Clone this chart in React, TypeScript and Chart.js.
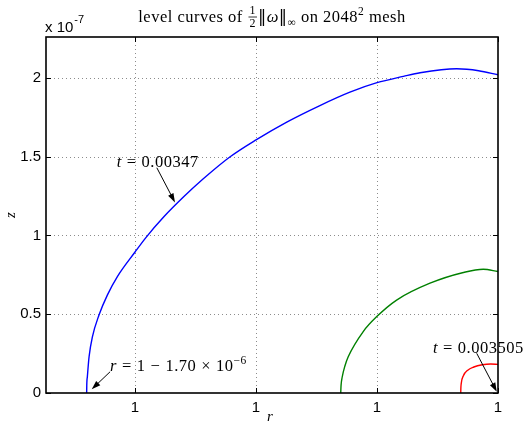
import React, { useEffect, useRef } from "react";
import { Chart, registerables } from "chart.js";

Chart.register(...registerables);

// r is shown as (r - 1) * 1e6, z as z * 1e7
const blueR = [-1.700, -1.6995, -1.697, -1.690, -1.676, -1.649, -1.614, -1.573, -1.500, -1.456, -1.380, -1.298, -1.218, -1.107, -1.000, -0.873, -0.736, -0.612, -0.500, -0.391, -0.322, -0.171, -0.080, 0];
const blueZ = [0, 0.05, 0.104, 0.23, 0.358, 0.495, 0.623, 0.739, 0.895, 0.985, 1.12, 1.247, 1.36, 1.5, 1.607, 1.72, 1.825, 1.910, 1.970, 2.010, 2.033, 2.058, 2.046, 2.02];

const greenR = [-0.650, -0.6485, -0.644, -0.633, -0.619, -0.557, -0.501, -0.419, -0.281, -0.143, -0.061, 0];
const greenZ = [0, 0.05, 0.10, 0.17, 0.23, 0.39, 0.485, 0.59, 0.697, 0.765, 0.786, 0.771];

const redR = [-0.154, -0.1535, -0.152, -0.143, -0.125, -0.100, -0.065, -0.030, 0];
const redZ = [0, 0.03, 0.06, 0.11, 0.145, 0.165, 0.179, 0.184, 0.182];

const xTickValues = [-1.5, -1, -0.5, 0];
const xTickLabels = ["1", "1", "1", "1"];
const yTickValues = [0, 0.5, 1, 1.5, 2];
const yTickLabels = ["0", "0.5", "1", "1.5", "2"];

const X_MIN = -1.868;
const X_MAX = 0;
const Y_MIN = 0;
const Y_MAX = 2.26;

const SERIF = "'Liberation Serif', 'DejaVu Serif', serif";
const SANS = "'Liberation Sans', Arial, sans-serif";
const BASE = `16.5px ${SERIF}`;
const SPACING = "0.5px";

type Seg = { t?: string; font?: string; dy?: number; gap?: number; frac?: [string, string]; fracFont?: string };

function segWidth(ctx: CanvasRenderingContext2D, s: Seg): number {
  if (s.gap !== undefined) return s.gap;
  if (s.frac) {
    ctx.font = s.fracFont || `12px ${SERIF}`;
    return Math.max(ctx.measureText(s.frac[0]).width, ctx.measureText(s.frac[1]).width) + 4;
  }
  ctx.font = s.font || BASE;
  return ctx.measureText(s.t || "").width;
}

function drawSegs(ctx: CanvasRenderingContext2D, segs: Seg[], x: number, y: number, align: "left" | "center") {
  ctx.save();
  (ctx as any).letterSpacing = SPACING;
  let total = 0;
  for (const s of segs) total += segWidth(ctx, s);
  let cx = align === "center" ? x - total / 2 : x;
  ctx.fillStyle = "#000";
  ctx.textBaseline = "alphabetic";
  ctx.textAlign = "left";
  for (const s of segs) {
    const w = segWidth(ctx, s);
    if (s.gap !== undefined) {
      // spacing only
    } else if (s.frac) {
      ctx.font = s.fracFont || `12px ${SERIF}`;
      const w0 = ctx.measureText(s.frac[0]).width;
      const w1 = ctx.measureText(s.frac[1]).width;
      ctx.fillText(s.frac[0], cx + (w - w0) / 2, y - 8);
      ctx.fillText(s.frac[1], cx + (w - w1) / 2, y + 5);
      ctx.beginPath();
      ctx.strokeStyle = "#000";
      ctx.lineWidth = 0.8;
      ctx.moveTo(cx + 1, y - 5);
      ctx.lineTo(cx + w - 1, y - 5);
      ctx.stroke();
    } else {
      ctx.font = s.font || BASE;
      ctx.fillText(s.t || "", cx, y + (s.dy || 0));
    }
    cx += w;
  }
  ctx.restore();
}

function arrow(ctx: CanvasRenderingContext2D, x1: number, y1: number, x2: number, y2: number) {
  const ang = Math.atan2(y2 - y1, x2 - x1);
  const L = 9;
  const W = 3;
  ctx.save();
  ctx.strokeStyle = "#000";
  ctx.fillStyle = "#000";
  ctx.lineWidth = 1;
  ctx.beginPath();
  ctx.moveTo(x1, y1);
  ctx.lineTo(x2 - Math.cos(ang) * L * 0.8, y2 - Math.sin(ang) * L * 0.8);
  ctx.stroke();
  ctx.beginPath();
  ctx.moveTo(x2, y2);
  ctx.lineTo(x2 - Math.cos(ang) * L - Math.sin(ang) * W, y2 - Math.sin(ang) * L + Math.cos(ang) * W);
  ctx.lineTo(x2 - Math.cos(ang) * L + Math.sin(ang) * W, y2 - Math.sin(ang) * L - Math.cos(ang) * W);
  ctx.closePath();
  ctx.fill();
  ctx.restore();
}

const ITAL = `italic 16.5px ${SERIF}`;
const SMALL = `11.5px ${SERIF}`;

const annotations = [
  {
    text: [{ t: "t", font: ITAL }, { gap: 5 }, { t: "=" }, { gap: 5 }, { t: "0.00347" }] as Seg[],
    textAt: [-1.576, 1.436],
    tail: [-1.410, 1.43],
    head: [-1.335, 1.21],
  },
  {
    text: [
      { t: "r", font: ITAL }, { gap: 5 }, { t: "=" }, { gap: 5 }, { t: "1" }, { gap: 5 }, { t: "\u2212" }, { gap: 5 },
      { t: "1.70" }, { gap: 5 }, { t: "\u00d7" }, { gap: 5 }, { t: "10" }, { t: "\u22126", font: SMALL, dy: -7 },
    ] as Seg[],
    textAt: [-1.603, 0.14],
    tail: [-1.603, 0.135],
    head: [-1.679, 0.0235],
  },
  {
    text: [{ t: "t", font: ITAL }, { gap: 5 }, { t: "=" }, { gap: 5 }, { t: "0.003505" }] as Seg[],
    textAt: [-0.269, 0.254],
    tail: [-0.088, 0.252],
    head: [-0.005, 0.008],
  },
];

const decor = {
  id: "decor",
  beforeDatasetsDraw(chart: any) {
    const { ctx, chartArea: a, scales } = chart;
    const xs = scales.x;
    const ys = scales.y;
    ctx.save();
    ctx.strokeStyle = "#8c8c8c";
    ctx.lineWidth = 1;
    ctx.setLineDash([1, 3]);
    for (const v of xTickValues) {
      const px = Math.round(xs.getPixelForValue(v)) + 0.5;
      if (px >= a.right - 1) continue;
      ctx.beginPath();
      ctx.moveTo(px, a.top);
      ctx.lineTo(px, a.bottom);
      ctx.stroke();
    }
    for (const v of yTickValues) {
      const py = Math.round(ys.getPixelForValue(v)) + 0.5;
      if (py >= a.bottom - 1) continue;
      ctx.beginPath();
      ctx.moveTo(a.left, py);
      ctx.lineTo(a.right, py);
      ctx.stroke();
    }
    ctx.restore();
  },
  afterDatasetsDraw(chart: any) {
    const { ctx, chartArea: a, scales } = chart;
    const xs = scales.x;
    const ys = scales.y;
    ctx.save();
    ctx.strokeStyle = "#000";
    ctx.lineWidth = 1.6;
    ctx.strokeRect(a.left, a.top, a.right - a.left, a.bottom - a.top);
    ctx.lineWidth = 1;
    const T = 5;
    for (const v of xTickValues) {
      const px = Math.round(xs.getPixelForValue(v)) + 0.5;
      ctx.beginPath();
      ctx.moveTo(px, a.bottom);
      ctx.lineTo(px, a.bottom - T);
      ctx.moveTo(px, a.top);
      ctx.lineTo(px, a.top + T);
      ctx.stroke();
    }
    for (const v of yTickValues) {
      const py = Math.round(ys.getPixelForValue(v)) + 0.5;
      ctx.beginPath();
      ctx.moveTo(a.left, py);
      ctx.lineTo(a.left + T, py);
      ctx.moveTo(a.right, py);
      ctx.lineTo(a.right - T, py);
      ctx.stroke();
    }
    ctx.restore();

    for (const an of annotations) {
      const tx = xs.getPixelForValue(an.textAt[0]);
      const ty = ys.getPixelForValue(an.textAt[1]);
      drawSegs(ctx, an.text, tx, ty, "left");
      arrow(
        ctx,
        xs.getPixelForValue(an.tail[0]),
        ys.getPixelForValue(an.tail[1]),
        xs.getPixelForValue(an.head[0]),
        ys.getPixelForValue(an.head[1])
      );
    }

    ctx.save();
    ctx.fillStyle = "#000";
    ctx.textAlign = "left";
    ctx.textBaseline = "alphabetic";
    ctx.font = `15px ${SANS}`;
    ctx.fillText("x 10", a.left - 1, a.top - 5);
    const w = ctx.measureText("x 10").width;
    ctx.font = `11px ${SANS}`;
    ctx.fillText("-7", a.left - 1 + w + 1, a.top - 14);
    ctx.restore();

    const cx = (a.left + a.right) / 2;
    drawSegs(
      ctx,
      [
        { t: "level curves of " },
        { frac: ["1", "2"] },
        { t: "\u2016", font: `16.5px 'DejaVu Serif', serif` },
        { t: "\u03c9", font: ITAL },
        { t: "\u2016", font: `16.5px 'DejaVu Serif', serif` },
        { t: "\u221e", font: SMALL, dy: 4 },
        { t: " on 2048" },
        { t: "2", font: SMALL, dy: -7 },
        { t: " mesh" },
      ],
      cx,
      22,
      "center"
    );

    ctx.save();
    ctx.fillStyle = "#000";
    ctx.font = `italic 15px ${SERIF}`;
    ctx.textAlign = "center";
    ctx.textBaseline = "alphabetic";
    ctx.fillText("r", cx - 2, 421);
    ctx.translate(15, (a.top + a.bottom) / 2);
    ctx.rotate(-Math.PI / 2);
    ctx.fillText("z", 0, 0);
    ctx.restore();
  },
};

export default function App() {
  const ref = useRef<HTMLCanvasElement>(null);
  useEffect(() => {
    const mk = (xsArr: number[], ysArr: number[], color: string) => ({
      data: xsArr.map((x, i) => ({ x, y: ysArr[i] })),
      borderColor: color,
      backgroundColor: color,
      borderWidth: 1.4,
      pointRadius: 0,
      fill: false,
      cubicInterpolationMode: "monotone" as const,
    });
    const tickFont = { family: SANS, size: 15 };
    const chart = new Chart(ref.current as HTMLCanvasElement, {
      type: "line",
      data: {
        datasets: [mk(blueR, blueZ, "#0000ff"), mk(greenR, greenZ, "#008000"), mk(redR, redZ, "#ff0000")],
      },
      options: {
        animation: false,
        responsive: true,
        maintainAspectRatio: false,
        events: [],
        layout: { padding: { top: 37, right: 28, left: 0, bottom: 0 } },
        plugins: { legend: { display: false }, tooltip: { enabled: false }, title: { display: false } },
        scales: {
          x: {
            type: "linear",
            min: X_MIN,
            max: X_MAX,
            afterBuildTicks: (s: any) => {
              s.ticks = xTickValues.map((v) => ({ value: v }));
            },
            afterFit: (s: any) => {
              s.height = 30;
            },
            ticks: {
              callback: (_v: any, i: number) => xTickLabels[i],
              font: tickFont,
              color: "#000",
              padding: 6,
              maxRotation: 0,
              autoSkip: false,
            },
            grid: { display: false, drawTicks: false },
            border: { display: false },
          },
          y: {
            type: "linear",
            min: Y_MIN,
            max: Y_MAX,
            afterBuildTicks: (s: any) => {
              s.ticks = yTickValues.map((v) => ({ value: v }));
            },
            afterFit: (s: any) => {
              s.width = 46;
            },
            ticks: {
              callback: (_v: any, i: number) => yTickLabels[i],
              font: tickFont,
              color: "#000",
              padding: 5,
              autoSkip: false,
            },
            grid: { display: false, drawTicks: false },
            border: { display: false },
          },
        },
      },
      plugins: [decor],
    } as any);
    return () => chart.destroy();
  }, []);
  return (
    <div style={{ position: "absolute", left: 0, top: 0, width: 526, height: 423, background: "#fff" }}>
      <canvas ref={ref} />
    </div>
  );
}
